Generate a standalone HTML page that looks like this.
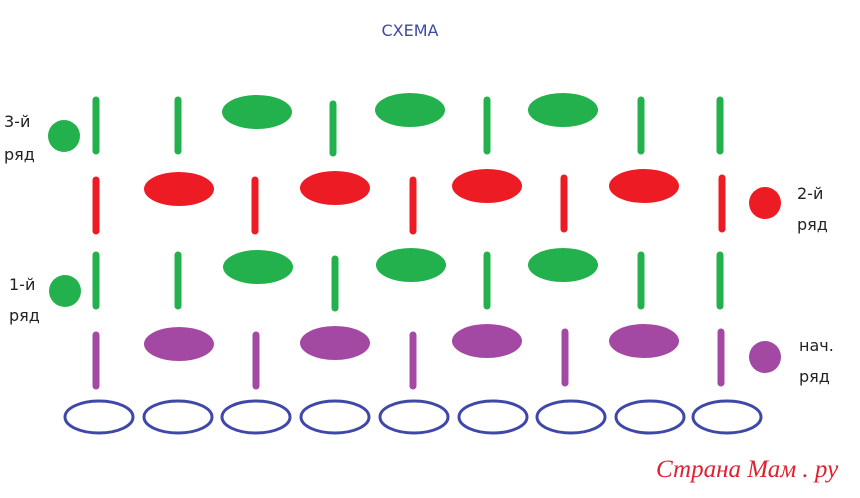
<!DOCTYPE html><html><head><meta charset="utf-8"><style>body{margin:0;background:#fff}</style></head><body>
<svg width="860" height="493" xmlns="http://www.w3.org/2000/svg" font-family="DejaVu Sans, Liberation Sans, sans-serif">
<text x="410" y="36" font-size="16" fill="#3f48a8" text-anchor="middle">СХЕМА</text>
<g stroke-width="7" stroke-linecap="round">
<g stroke="#22b14c"><line x1="96" y1="100" x2="96" y2="151"/><line x1="178" y1="100" x2="178" y2="151"/><line x1="333" y1="104" x2="333" y2="153"/><line x1="487" y1="100" x2="487" y2="151"/><line x1="641" y1="100" x2="641" y2="151"/><line x1="720" y1="100" x2="720" y2="151"/>
<line x1="96" y1="255" x2="96" y2="306"/><line x1="178" y1="255" x2="178" y2="306"/><line x1="335" y1="259" x2="335" y2="308"/><line x1="487" y1="255" x2="487" y2="306"/><line x1="641" y1="255" x2="641" y2="306"/><line x1="720" y1="255" x2="720" y2="306"/></g>
<g stroke="#ed1c24"><line x1="96" y1="180" x2="96" y2="231"/><line x1="255" y1="180" x2="255" y2="231"/><line x1="413" y1="180" x2="413" y2="231"/><line x1="564" y1="178" x2="564" y2="229"/><line x1="722" y1="178" x2="722" y2="229"/></g>
<g stroke="#a349a4"><line x1="96" y1="335" x2="96" y2="386"/><line x1="256" y1="335" x2="256" y2="386"/><line x1="413" y1="335" x2="413" y2="386"/><line x1="565" y1="332" x2="565" y2="383"/><line x1="721" y1="332" x2="721" y2="383"/></g>
</g>
<g fill="#22b14c"><ellipse cx="257" cy="112" rx="35" ry="17"/><ellipse cx="410" cy="110" rx="35" ry="17"/><ellipse cx="563" cy="110" rx="35" ry="17"/>
<ellipse cx="258" cy="267" rx="35" ry="17"/><ellipse cx="411" cy="265" rx="35" ry="17"/><ellipse cx="563" cy="265" rx="35" ry="17"/>
<circle cx="64" cy="136" r="16"/><circle cx="65" cy="291" r="16"/></g>
<g fill="#ed1c24"><ellipse cx="179" cy="189" rx="35" ry="17"/><ellipse cx="335" cy="188" rx="35" ry="17"/><ellipse cx="487" cy="186" rx="35" ry="17"/><ellipse cx="644" cy="186" rx="35" ry="17"/><circle cx="765" cy="203" r="16"/></g>
<g fill="#a349a4"><ellipse cx="179" cy="344" rx="35" ry="17"/><ellipse cx="335" cy="343" rx="35" ry="17"/><ellipse cx="487" cy="341" rx="35" ry="17"/><ellipse cx="644" cy="341" rx="35" ry="17"/><circle cx="765" cy="357" r="16"/></g>
<g fill="none" stroke="#3f48a8" stroke-width="3">
<ellipse cx="99" cy="417" rx="34" ry="16"/><ellipse cx="178" cy="417" rx="34" ry="16"/><ellipse cx="256" cy="417" rx="34" ry="16"/><ellipse cx="335" cy="417" rx="34" ry="16"/><ellipse cx="414" cy="417" rx="34" ry="16"/><ellipse cx="493" cy="417" rx="34" ry="16"/><ellipse cx="571" cy="417" rx="34" ry="16"/><ellipse cx="650" cy="417" rx="34" ry="16"/><ellipse cx="727" cy="417" rx="34" ry="16"/></g>
<g font-size="16" fill="#222">
<text x="4" y="127">3-й</text><text x="4" y="160">ряд</text>
<text x="9" y="290">1-й</text><text x="9" y="321">ряд</text>
<text x="797" y="199">2-й</text><text x="797" y="230">ряд</text>
<text x="799" y="351">нач.</text><text x="799" y="382">ряд</text></g>
<text x="656" y="477" font-size="25" font-style="italic" font-family="Liberation Serif, serif" fill="#e02030">Страна Мам . ру</text>
</svg></body></html>
